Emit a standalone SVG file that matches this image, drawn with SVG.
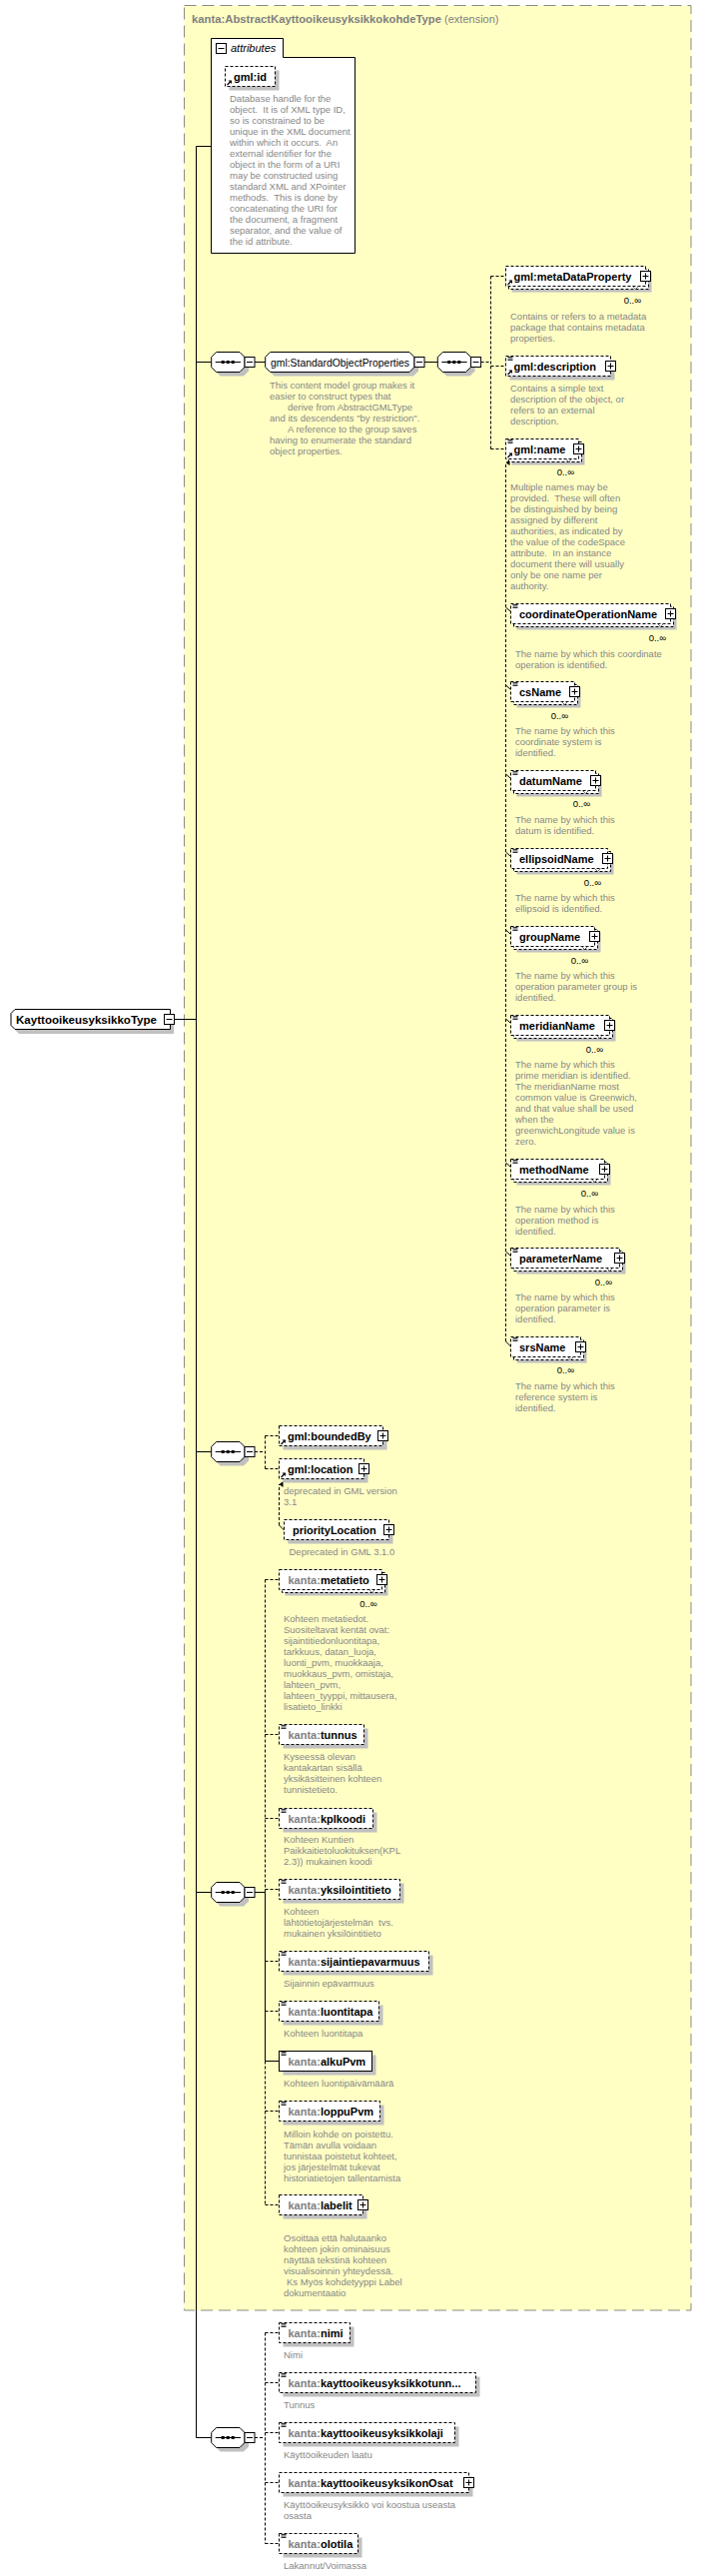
<svg xmlns="http://www.w3.org/2000/svg" width="714" height="2579" viewBox="0 0 714 2579">
<style>
text{font-family:"Liberation Sans",Arial,sans-serif}
.t{font-size:11px;font-weight:bold;fill:#000}
.n{font-size:11px;fill:#000}
.p{fill:#808080}
.ti{font-size:11px;font-weight:bold;fill:#808080}
.d{font-size:9.5px;fill:#878787}
.o{font-size:9.5px;fill:#000;text-anchor:end}
.sh{fill:#c0c0c0;stroke:none}
.eb{fill:#fff;stroke:#000;stroke-dasharray:3,2}
.es{fill:#fff;stroke:#000}
.c{fill:none;stroke:#000}
.cd{fill:none;stroke:#000;stroke-dasharray:3,2}
.v{fill:none;stroke:#555;stroke-width:0.8}
</style>
<defs>
<g id="pl"><rect x="0" y="0" width="10" height="10" fill="#fff" stroke="#000"/><path d="M2 5H8M5 2V8" stroke="#000"/></g>
<g id="mi"><rect x="0" y="0" width="10" height="10" fill="#fff" stroke="#000"/><path d="M2 5H8" stroke="#000"/></g>
<g id="eq"><path d="M1.5 0.5H6.5M1.5 2H6.5M1.5 3.5H6.5" stroke="#000" stroke-width="0.8"/></g>
<g id="ar"><path d="M1.5 6L5 2.5" stroke="#000" stroke-width="1.2"/><path d="M2.5 1.5H6V5Z" fill="#000"/></g>
<g id="sq">
<path class="sh" d="M9,4H32.3L37.3,9V19L32.3,24H9L4,19V9Z"/>
<path class="es" d="M5,0H28.3L33.3,5V15L28.3,20H5L0,15V5Z"/>
<path d="M4 10H29.3" stroke="#000"/>
<rect x="10" y="8.5" width="3" height="3" fill="#000"/><rect x="15" y="8.5" width="3" height="3" fill="#000"/><rect x="20" y="8.5" width="3" height="3" fill="#000"/>
<use href="#mi" x="33.3" y="5"/>
</g>
<marker id="up" markerWidth="6" markerHeight="6" refX="3" refY="0" orient="auto" markerUnits="userSpaceOnUse"><path d="M0,4L3,0L6,4Z" fill="#000"/></marker>
</defs>

<g id="extension">
<rect x="184.5" y="5.5" width="507.5" height="2307.5" fill="#ffffc4" stroke="#8a8a8a" stroke-dasharray="12,6"/>
<text x="192" y="23" class="ti"><tspan textLength="250" lengthAdjust="spacingAndGlyphs">kanta:AbstractKayttooikeusyksikkokohdeType</tspan><tspan font-weight="normal"> (extension)</tspan></text>
</g>

<g id="connectors">
<path class="c" d="M175 1020.5H196.5M196.5 146.5V2440.5M196.5 146.5H211.5M196.5 362.5H211.7M196.5 1453.5H211.7M196.5 1894.5H211.7M196.5 2440.5H211.7"/>
<path class="c" d="M255 362.5H265.7M425 362.5H438.3"/>
<path class="cd" d="M481.6 362.5H491.5M491.5 276.5V449.5M491.5 276.5H506.5M491.5 366.5H506.5M491.5 449.5H506.5"/>
<path class="cd" d="M506.5 1343V463" marker-end="url(#up)"/>
<path class="c" d="M506.5 1343L511.5 1348"/>
<path class="c" d="M506.5 608L511 612M506.5 686L511 690M506.5 775L511 779M506.5 853L511 857M506.5 931L511 935M506.5 1020L511 1024M506.5 1164L511 1168M506.5 1253L511 1257"/>
<path class="cd" d="M255 1453.5H265.5M265.5 1437.5V1470.5M265.5 1437.5H279.5M265.5 1470.5H279.5"/>
<path class="cd" d="M279.5 1527V1486" marker-end="url(#up)"/>
<path class="c" d="M279.5 1527L284.5 1532"/>
<path class="c" d="M255 1894.5H265.5M265.5 1894.5V2063.5M265.5 2063.5H279.5"/>
<path class="cd" d="M265.5 1581.5V1894.5M265.5 2063.5V2207.5M265.5 1581.5H279.5M265.5 1736.5H279.5M265.5 1820.5H279.5M265.5 1891.5H279.5M265.5 1963.5H279.5M265.5 2013.5H279.5M265.5 2113.5H279.5M265.5 2207.5H279.5"/>
<path class="cd" d="M255 2440.5H265.5M265.5 2335.5V2546.5M265.5 2335.5H279.5M265.5 2385.5H279.5M265.5 2435.5H279.5M265.5 2485.5H279.5M265.5 2546.5H279.5"/>
</g>

<g id="root">
<path class="sh" d="M19,1015H174V1035H19L15,1031V1019Z"/>
<path class="es" d="M15,1010.5H170.5V1030.5H15L11,1026.5V1014.5Z"/>
<text x="16" y="1024.5" class="t" textLength="141" lengthAdjust="spacingAndGlyphs">KayttooikeusyksikkoType</text>
<use href="#mi" x="164.5" y="1015.5"/>
</g>

<g id="attributes">
<path class="es" d="M211.5,38.5H283.5V57.5H355.5V253.5H211.5Z"/>
<use href="#mi" x="216.5" y="43.5"/>
<text x="231" y="52" font-size="11" font-style="italic" fill="#000">attributes</text>
</g>

<g id="gml_id">
<rect class="sh" x="229.5" y="70.5" width="50" height="20"/>
<rect class="eb" x="225.5" y="66.5" width="50" height="20"/>
<use href="#ar" x="226" y="79"/>
<text x="234" y="80.5" class="t">gml:id</text>
<text class="d" xml:space="preserve"><tspan x="230" y="102">Database handle for the</tspan><tspan x="230" dy="11">object.  It is of XML type ID,</tspan><tspan x="230" dy="11">so is constrained to be</tspan><tspan x="230" dy="11">unique in the XML document</tspan><tspan x="230" dy="11">within which it occurs.  An</tspan><tspan x="230" dy="11">external identifier for the</tspan><tspan x="230" dy="11">object in the form of a URI</tspan><tspan x="230" dy="11">may be constructed using</tspan><tspan x="230" dy="11">standard XML and XPointer</tspan><tspan x="230" dy="11">methods.  This is done by</tspan><tspan x="230" dy="11">concatenating the URI for</tspan><tspan x="230" dy="11">the document, a fragment</tspan><tspan x="230" dy="11">separator, and the value of</tspan><tspan x="230" dy="11">the id attribute.</tspan></text>
</g>

<g id="seq1"><use href="#sq" x="211.7" y="352.5"/></g>

<g id="StandardObjectProperties">
<path class="sh" d="M274.7,356.5H414L419,361.5V371.5L414,376.5H274.7L269.7,371.5V361.5Z"/>
<path class="es" d="M270.7,352.5H410L415,357.5V367.5L410,372.5H270.7L265.7,367.5V357.5Z"/>
<text x="271" y="366.5" class="n" textLength="139" lengthAdjust="spacingAndGlyphs">gml:StandardObjectProperties</text>
<use href="#mi" x="415" y="357.5"/>
<text class="d"><tspan x="270" y="388.5">This content model group makes it</tspan><tspan x="270" dy="11">easier to construct types that</tspan><tspan x="288" dy="11">derive from AbstractGMLType</tspan><tspan x="270" dy="11">and its descendents "by restriction".</tspan><tspan x="288" dy="11">A reference to the group saves</tspan><tspan x="270" dy="11">having to enumerate the standard</tspan><tspan x="270" dy="11">object properties.</tspan></text>
</g>

<g id="seq1b"><use href="#sq" x="438.3" y="352.5"/></g>

<g id="metaDataProperty">
<rect class="sh" x="512.5" y="272.5" width="140" height="20"/>
<rect class="eb" x="509.5" y="269.5" width="140" height="20"/>
<rect class="eb" x="506.5" y="266.5" width="140" height="20"/>
<path class="v" d="M633.5 286.5L636.5 289.5L639.5 286.5"/>
<use href="#ar" x="507" y="279"/>
<text x="514.5" y="280.5" class="t">gml:metaDataProperty</text>
<use href="#pl" x="641.5" y="271.5"/>
<text x="642" y="303.5" class="o">0..∞</text>
<text class="d"><tspan x="511" y="319.5">Contains or refers to a metadata</tspan><tspan x="511" dy="11">package that contains metadata</tspan><tspan x="511" dy="11">properties.</tspan></text>
</g>

<g id="description">
<rect class="sh" x="510.5" y="360.5" width="105" height="20"/>
<rect class="eb" x="506.5" y="356.5" width="105" height="20"/>
<use href="#eq" x="507" y="357"/>
<use href="#ar" x="507" y="369"/>
<text x="514.5" y="370.5" class="t">gml:description</text>
<use href="#pl" x="606.5" y="361.5"/>
<text class="d"><tspan x="511" y="391.5">Contains a simple text</tspan><tspan x="511" dy="11">description of the object, or</tspan><tspan x="511" dy="11">refers to an external</tspan><tspan x="511" dy="11">description.</tspan></text>
</g>

<g id="name">
<rect class="sh" x="512.5" y="445.5" width="73" height="20"/>
<rect class="eb" x="509.5" y="442.5" width="73" height="20"/>
<rect class="eb" x="506.5" y="439.5" width="73" height="20"/>
<path class="v" d="M566.5 459.5L569.5 462.5L572.5 459.5"/>
<use href="#eq" x="507" y="440"/>
<use href="#ar" x="507" y="452"/>
<text x="514.5" y="453.5" class="t">gml:name</text>
<use href="#pl" x="574.5" y="444.5"/>
<text x="575" y="476" class="o">0..∞</text>
<text class="d" xml:space="preserve"><tspan x="511" y="491">Multiple names may be</tspan><tspan x="511" dy="11">provided.  These will often</tspan><tspan x="511" dy="11">be distinguished by being</tspan><tspan x="511" dy="11">assigned by different</tspan><tspan x="511" dy="11">authorities, as indicated by</tspan><tspan x="511" dy="11">the value of the codeSpace</tspan><tspan x="511" dy="11">attribute.  In an instance</tspan><tspan x="511" dy="11">document there will usually</tspan><tspan x="511" dy="11">only be one name per</tspan><tspan x="511" dy="11">authority.</tspan></text>
</g>

<g id="coordinateOperationName">
<rect class="sh" x="517.5" y="610.5" width="160" height="20"/>
<rect class="eb" x="514.5" y="607.5" width="160" height="20"/>
<rect class="eb" x="511.5" y="604.5" width="160" height="20"/>
<path class="v" d="M658.5 624.5L661.5 627.5L664.5 624.5"/>
<use href="#eq" x="512" y="605"/>
<text x="520" y="618.5" class="t">coordinateOperationName</text>
<use href="#pl" x="666.5" y="609.5"/>
<text x="667" y="641.5" class="o">0..∞</text>
<text class="d"><tspan x="516" y="657.5">The name by which this coordinate</tspan><tspan x="516" dy="11">operation is identified.</tspan></text>
</g>

<g id="csName">
<rect class="sh" x="517.5" y="688.5" width="64" height="20"/>
<rect class="eb" x="514.5" y="685.5" width="64" height="20"/>
<rect class="eb" x="511.5" y="682.5" width="64" height="20"/>
<path class="v" d="M562.5 702.5L565.5 705.5L568.5 702.5"/>
<use href="#eq" x="512" y="683"/>
<text x="520" y="696.5" class="t">csName</text>
<use href="#pl" x="570.5" y="687.5"/>
<text x="569" y="719.5" class="o">0..∞</text>
<text class="d"><tspan x="516" y="735">The name by which this</tspan><tspan x="516" dy="11">coordinate system is</tspan><tspan x="516" dy="11">identified.</tspan></text>
</g>

<g id="datumName">
<rect class="sh" x="517.5" y="777.5" width="85" height="20"/>
<rect class="eb" x="514.5" y="774.5" width="85" height="20"/>
<rect class="eb" x="511.5" y="771.5" width="85" height="20"/>
<path class="v" d="M583.5 791.5L586.5 794.5L589.5 791.5"/>
<use href="#eq" x="512" y="772"/>
<text x="520" y="785.5" class="t">datumName</text>
<use href="#pl" x="591.5" y="776.5"/>
<text x="591" y="808" class="o">0..∞</text>
<text class="d"><tspan x="516" y="824">The name by which this</tspan><tspan x="516" dy="11">datum is identified.</tspan></text>
</g>

<g id="ellipsoidName">
<rect class="sh" x="517.5" y="855.5" width="97" height="20"/>
<rect class="eb" x="514.5" y="852.5" width="97" height="20"/>
<rect class="eb" x="511.5" y="849.5" width="97" height="20"/>
<path class="v" d="M595.5 869.5L598.5 872.5L601.5 869.5"/>
<use href="#eq" x="512" y="850"/>
<text x="520" y="863.5" class="t">ellipsoidName</text>
<use href="#pl" x="603.5" y="854.5"/>
<text x="602" y="886.5" class="o">0..∞</text>
<text class="d"><tspan x="516" y="902">The name by which this</tspan><tspan x="516" dy="11">ellipsoid is identified.</tspan></text>
</g>

<g id="groupName">
<rect class="sh" x="517.5" y="933.5" width="84" height="20"/>
<rect class="eb" x="514.5" y="930.5" width="84" height="20"/>
<rect class="eb" x="511.5" y="927.5" width="84" height="20"/>
<path class="v" d="M582.5 947.5L585.5 950.5L588.5 947.5"/>
<use href="#eq" x="512" y="928"/>
<text x="520" y="941.5" class="t">groupName</text>
<use href="#pl" x="590.5" y="932.5"/>
<text x="589" y="964.5" class="o">0..∞</text>
<text class="d"><tspan x="516" y="980">The name by which this</tspan><tspan x="516" dy="11">operation parameter group is</tspan><tspan x="516" dy="11">identified.</tspan></text>
</g>

<g id="meridianName">
<rect class="sh" x="517.5" y="1022.5" width="99" height="20"/>
<rect class="eb" x="514.5" y="1019.5" width="99" height="20"/>
<rect class="eb" x="511.5" y="1016.5" width="99" height="20"/>
<path class="v" d="M597.5 1036.5L600.5 1039.5L603.5 1036.5"/>
<use href="#eq" x="512" y="1017"/>
<text x="520" y="1030.5" class="t">meridianName</text>
<use href="#pl" x="605.5" y="1021.5"/>
<text x="604" y="1053.5" class="o">0..∞</text>
<text class="d"><tspan x="516" y="1069">The name by which this</tspan><tspan x="516" dy="11">prime meridian is identified.</tspan><tspan x="516" dy="11">The meridianName most</tspan><tspan x="516" dy="11">common value is Greenwich,</tspan><tspan x="516" dy="11">and that value shall be used</tspan><tspan x="516" dy="11">when the</tspan><tspan x="516" dy="11">greenwichLongitude value is</tspan><tspan x="516" dy="11">zero.</tspan></text>
</g>

<g id="methodName">
<rect class="sh" x="517.5" y="1166.5" width="94" height="20"/>
<rect class="eb" x="514.5" y="1163.5" width="94" height="20"/>
<rect class="eb" x="511.5" y="1160.5" width="94" height="20"/>
<path class="v" d="M592.5 1180.5L595.5 1183.5L598.5 1180.5"/>
<use href="#eq" x="512" y="1161"/>
<text x="520" y="1174.5" class="t">methodName</text>
<use href="#pl" x="600.5" y="1165.5"/>
<text x="599" y="1197.5" class="o">0..∞</text>
<text class="d"><tspan x="516" y="1213.5">The name by which this</tspan><tspan x="516" dy="11">operation method is</tspan><tspan x="516" dy="11">identified.</tspan></text>
</g>

<g id="parameterName">
<rect class="sh" x="517.5" y="1255.5" width="109" height="20"/>
<rect class="eb" x="514.5" y="1252.5" width="109" height="20"/>
<rect class="eb" x="511.5" y="1249.5" width="109" height="20"/>
<path class="v" d="M607.5 1269.5L610.5 1272.5L613.5 1269.5"/>
<use href="#eq" x="512" y="1250"/>
<text x="520" y="1263.5" class="t">parameterName</text>
<use href="#pl" x="615.5" y="1254.5"/>
<text x="613" y="1286.5" class="o">0..∞</text>
<text class="d"><tspan x="516" y="1302">The name by which this</tspan><tspan x="516" dy="11">operation parameter is</tspan><tspan x="516" dy="11">identified.</tspan></text>
</g>

<g id="srsName">
<rect class="sh" x="517.5" y="1344.5" width="70" height="20"/>
<rect class="eb" x="514.5" y="1341.5" width="70" height="20"/>
<rect class="eb" x="511.5" y="1338.5" width="70" height="20"/>
<path class="v" d="M568.5 1358.5L571.5 1361.5L574.5 1358.5"/>
<use href="#eq" x="512" y="1339"/>
<text x="520" y="1352.5" class="t">srsName</text>
<use href="#pl" x="576.5" y="1343.5"/>
<text x="575" y="1375" class="o">0..∞</text>
<text class="d"><tspan x="516" y="1391">The name by which this</tspan><tspan x="516" dy="11">reference system is</tspan><tspan x="516" dy="11">identified.</tspan></text>
</g>

<g id="seq2"><use href="#sq" x="211.7" y="1443.5"/></g>

<g id="boundedBy">
<rect class="sh" x="283.5" y="1431.5" width="104" height="20"/>
<rect class="eb" x="279.5" y="1427.5" width="104" height="20"/>
<use href="#ar" x="280" y="1440"/>
<text x="288" y="1441.5" class="t">gml:boundedBy</text>
<use href="#pl" x="378.5" y="1432.5"/>
</g>

<g id="location">
<rect class="sh" x="283.5" y="1464.5" width="85" height="20"/>
<rect class="eb" x="279.5" y="1460.5" width="85" height="20"/>
<use href="#ar" x="280" y="1473"/>
<text x="288" y="1474.5" class="t">gml:location</text>
<use href="#pl" x="359.5" y="1465.5"/>
<text class="d"><tspan x="284" y="1496">deprecated in GML version</tspan><tspan x="284" dy="11">3.1</tspan></text>
</g>

<g id="priorityLocation">
<rect class="sh" x="288.5" y="1525.5" width="105" height="20"/>
<rect class="eb" x="284.5" y="1521.5" width="105" height="20"/>
<text x="293" y="1535.5" class="t">priorityLocation</text>
<use href="#pl" x="384.5" y="1526.5"/>
<text x="289.5" y="1557" class="d">Deprecated in GML 3.1.0</text>
</g>

<g id="seq3"><use href="#sq" x="211.7" y="1884.5"/></g>

<g id="metatieto">
<rect class="sh" x="285.5" y="1577.5" width="103" height="20"/>
<rect class="eb" x="282.5" y="1574.5" width="103" height="20"/>
<rect class="eb" x="279.5" y="1571.5" width="103" height="20"/>
<path class="v" d="M369.5 1591.5L372.5 1594.5L375.5 1591.5"/>
<text x="288.5" y="1585.5" class="t"><tspan class="p">kanta:</tspan>metatieto</text>
<use href="#pl" x="377.5" y="1576.5"/>
<text x="377.5" y="1608.5" class="o">0..∞</text>
<text class="d"><tspan x="284" y="1624">Kohteen metatiedot.</tspan><tspan x="284" dy="11">Suositeltavat kentät ovat:</tspan><tspan x="284" dy="11">sijaintitiedonluontitapa,</tspan><tspan x="284" dy="11">tarkkuus, datan_luoja,</tspan><tspan x="284" dy="11">luonti_pvm, muokkaaja,</tspan><tspan x="284" dy="11">muokkaus_pvm, omistaja,</tspan><tspan x="284" dy="11">lahteen_pvm,</tspan><tspan x="284" dy="11">lahteen_tyyppi, mittausera,</tspan><tspan x="284" dy="11">lisatieto_linkki</tspan></text>
</g>

<g id="tunnus">
<rect class="sh" x="283.5" y="1730.5" width="85" height="20"/>
<rect class="eb" x="279.5" y="1726.5" width="85" height="20"/>
<use href="#eq" x="280" y="1727"/>
<text x="288.5" y="1740.5" class="t"><tspan class="p">kanta:</tspan>tunnus</text>
<text class="d"><tspan x="284" y="1761.5">Kyseessä olevan</tspan><tspan x="284" dy="11">kantakartan sisällä</tspan><tspan x="284" dy="11">yksikäsitteinen kohteen</tspan><tspan x="284" dy="11">tunnistetieto.</tspan></text>
</g>

<g id="kplkoodi">
<rect class="sh" x="283.5" y="1814.5" width="94" height="20"/>
<rect class="eb" x="279.5" y="1810.5" width="94" height="20"/>
<use href="#eq" x="280" y="1811"/>
<text x="288.5" y="1824.5" class="t"><tspan class="p">kanta:</tspan>kplkoodi</text>
<text class="d"><tspan x="284" y="1844.5">Kohteen Kuntien</tspan><tspan x="284" dy="11">Paikkaitietoluokituksen(KPL</tspan><tspan x="284" dy="11">2.3)) mukainen koodi</tspan></text>
</g>

<g id="yksilointitieto">
<rect class="sh" x="283.5" y="1885.5" width="121" height="20"/>
<rect class="eb" x="279.5" y="1881.5" width="121" height="20"/>
<use href="#eq" x="280" y="1882"/>
<text x="288.5" y="1895.5" class="t"><tspan class="p">kanta:</tspan>yksilointitieto</text>
<text class="d" xml:space="preserve"><tspan x="284" y="1916.5">Kohteen</tspan><tspan x="284" dy="11">lähtötietojärjestelmän  tvs.</tspan><tspan x="284" dy="11">mukainen yksilöintitieto</tspan></text>
</g>

<g id="sijaintiepavarmuus">
<rect class="sh" x="283.5" y="1957.5" width="150" height="20"/>
<rect class="eb" x="279.5" y="1953.5" width="150" height="20"/>
<use href="#eq" x="280" y="1954"/>
<text x="288.5" y="1967.5" class="t"><tspan class="p">kanta:</tspan>sijaintiepavarmuus</text>
<text x="284" y="1989" class="d">Sijainnin epävarmuus</text>
</g>

<g id="luontitapa">
<rect class="sh" x="283.5" y="2007.5" width="100" height="20"/>
<rect class="eb" x="279.5" y="2003.5" width="100" height="20"/>
<use href="#eq" x="280" y="2004"/>
<text x="288.5" y="2017.5" class="t"><tspan class="p">kanta:</tspan>luontitapa</text>
<text x="284" y="2038.5" class="d">Kohteen luontitapa</text>
</g>

<g id="alkuPvm">
<rect class="sh" x="283.5" y="2057.5" width="93" height="20"/>
<rect class="es" x="279.5" y="2053.5" width="93" height="20"/>
<use href="#eq" x="280" y="2054"/>
<text x="288.5" y="2067.5" class="t"><tspan class="p">kanta:</tspan>alkuPvm</text>
<text x="284" y="2089" class="d">Kohteen luontipäivämäärä</text>
</g>

<g id="loppuPvm">
<rect class="sh" x="283.5" y="2107.5" width="101" height="20"/>
<rect class="eb" x="279.5" y="2103.5" width="101" height="20"/>
<use href="#eq" x="280" y="2104"/>
<text x="288.5" y="2117.5" class="t"><tspan class="p">kanta:</tspan>loppuPvm</text>
<text class="d"><tspan x="284" y="2139.5">Milloin kohde on poistettu.</tspan><tspan x="284" dy="11">Tämän avulla voidaan</tspan><tspan x="284" dy="11">tunnistaa poistetut kohteet,</tspan><tspan x="284" dy="11">jos järjestelmät tukevat</tspan><tspan x="284" dy="11">historiatietojen tallentamista</tspan></text>
</g>

<g id="labelit">
<rect class="sh" x="283.5" y="2201.5" width="84" height="20"/>
<rect class="eb" x="279.5" y="2197.5" width="84" height="20"/>
<text x="288.5" y="2211.5" class="t"><tspan class="p">kanta:</tspan>labelit</text>
<use href="#pl" x="358.5" y="2202.5"/>
<text class="d"><tspan x="284" y="2244">Osoittaa että halutaanko</tspan><tspan x="284" dy="11">kohteen jokin ominaisuus</tspan><tspan x="284" dy="11">näyttää tekstinä kohteen</tspan><tspan x="284" dy="11">visualisoinnin yhteydessä.</tspan><tspan x="287" dy="11">Ks Myös kohdetyyppi Label</tspan><tspan x="284" dy="11">dokumentaatio</tspan></text>
</g>

<g id="seq4"><use href="#sq" x="211.7" y="2430.5"/></g>

<g id="nimi">
<rect class="sh" x="283.5" y="2329.5" width="71" height="20"/>
<rect class="eb" x="279.5" y="2325.5" width="71" height="20"/>
<use href="#eq" x="280" y="2326"/>
<text x="288.5" y="2339.5" class="t"><tspan class="p">kanta:</tspan>nimi</text>
<text x="284" y="2361" class="d">Nimi</text>
</g>

<g id="kayttooikeusyksikkotunnus">
<rect class="sh" x="283.5" y="2379.5" width="197" height="20"/>
<rect class="eb" x="279.5" y="2375.5" width="197" height="20"/>
<use href="#eq" x="280" y="2376"/>
<text x="288.5" y="2389.5" class="t"><tspan class="p">kanta:</tspan>kayttooikeusyksikkotunn...</text>
<text x="284" y="2410.5" class="d">Tunnus</text>
</g>

<g id="kayttooikeusyksikkolaji">
<rect class="sh" x="283.5" y="2429.5" width="176" height="20"/>
<rect class="eb" x="279.5" y="2425.5" width="176" height="20"/>
<use href="#eq" x="280" y="2426"/>
<text x="288.5" y="2439.5" class="t"><tspan class="p">kanta:</tspan>kayttooikeusyksikkolaji</text>
<text x="284" y="2461" class="d">Käyttöoikeuden laatu</text>
</g>

<g id="kayttooikeusyksikonOsat">
<rect class="sh" x="283.5" y="2479.5" width="190" height="20"/>
<rect class="eb" x="279.5" y="2475.5" width="190" height="20"/>
<text x="288.5" y="2489.5" class="t"><tspan class="p">kanta:</tspan>kayttooikeusyksikonOsat</text>
<use href="#pl" x="464.5" y="2480.5"/>
<text class="d"><tspan x="284" y="2511">Käyttöoikeusyksikkö voi koostua useasta</tspan><tspan x="284" dy="11">osasta</tspan></text>
</g>

<g id="olotila">
<rect class="sh" x="283.5" y="2540.5" width="79" height="20"/>
<rect class="eb" x="279.5" y="2536.5" width="79" height="20"/>
<use href="#eq" x="280" y="2537"/>
<text x="288.5" y="2550.5" class="t"><tspan class="p">kanta:</tspan>olotila</text>
<text x="284" y="2572" class="d">Lakannut/Voimassa</text>
</g>
</svg>
